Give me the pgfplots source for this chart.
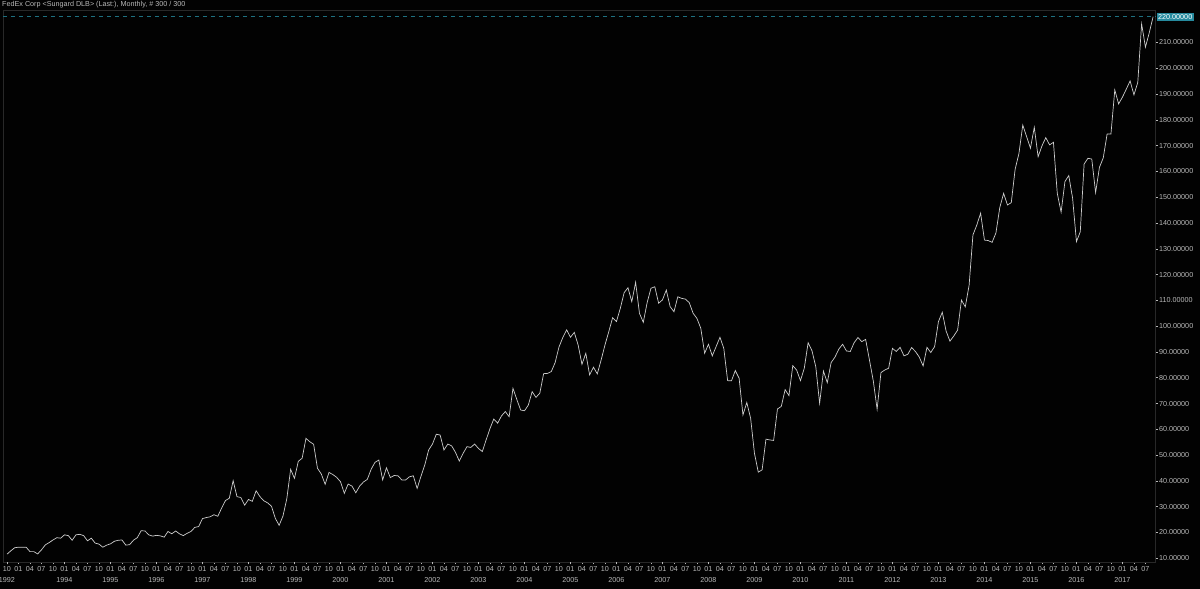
\documentclass[border=0pt]{standalone}
\usepackage{fontspec}
\setmainfont{Liberation Sans}
\usepackage{pgfplots}
\pgfplotsset{compat=1.18}
\definecolor{bg}{RGB}{2,2,2}
\definecolor{linec}{RGB}{205,205,205}
\definecolor{txt}{RGB}{185,185,185}
\definecolor{framec}{RGB}{40,40,40}
\definecolor{tealdash}{RGB}{30,112,128}
\definecolor{tealbox}{RGB}{38,138,158}
\begin{document}
\begin{tikzpicture}[x=1pt,y=1pt]
\fill[bg] (0,0) rectangle (1200,589);
\useasboundingbox (0,0) rectangle (1200,589);
\node[anchor=north west, inner sep=0pt, text=txt, font=\fontsize{7.2}{8}\selectfont] at (2,587.5) {FedEx Corp <Sungard DLB> (Last:), Monthly, \# 300 / 300};
\begin{axis}[
  at={(3pt,27pt)}, anchor=south west,
  width=1152pt, height=552pt, scale only axis,
  xmin=-1.04, xmax=299.5, ymin=8.57, ymax=222.6,
  axis line style={draw=framec},
  tick align=outside,
  major tick length=2.5pt,
  tick style={color=txt, line width=0.6pt},
  xtick pos=left, ytick pos=right, yticklabel pos=right,
  tick label style={font=\fontsize{7.2}{8}\selectfont, text=txt},
  xtick={0,3,...,297},
  xticklabels={
    10,01,04,07, 10,01,04,07, 10,01,04,07, 10,01,04,07, 10,01,04,07,
    10,01,04,07, 10,01,04,07, 10,01,04,07, 10,01,04,07, 10,01,04,07,
    10,01,04,07, 10,01,04,07, 10,01,04,07, 10,01,04,07, 10,01,04,07,
    10,01,04,07, 10,01,04,07, 10,01,04,07, 10,01,04,07, 10,01,04,07,
    10,01,04,07, 10,01,04,07, 10,01,04,07, 10,01,04,07, 10,01,04,07},
  xticklabel style={inner sep=1.5pt},
  extra x ticks={0,15,27,39,51,63,75,87,99,111,123,135,147,159,171,183,195,207,219,231,243,255,267,279,291},
  extra x tick labels={1992,1994,1995,1996,1997,1998,1999,2000,2001,2002,2003,2004,2005,2006,2007,2008,2009,2010,2011,2012,2013,2014,2015,2016,2017},
  extra x tick style={tick label style={yshift=-11pt}},
  ytick={10,20,...,210},
  yticklabel style={anchor=west, inner sep=1.5pt, /pgf/number format/fixed, /pgf/number format/fixed zerofill, /pgf/number format/precision=5, /pgf/number format/assume math mode=true},
  extra y ticks={220},
  extra y tick style={grid=major, major grid style={draw=tealdash, dash pattern=on 4pt off 4pt, line width=0.7pt}, tick style={draw=none}, tick label style={fill=tealbox, text=white, inner sep=1pt, xshift=-1pt}},
  clip=false,
]
\addplot[linec, line width=0.7pt] coordinates {
(0,11.6)(1,12.9)(2,14.1)(3,14.3)(4,14.3)(5,14.3)(6,12.6)(7,12.6)(8,11.7)(9,13.3)
(10,15.2)(11,16.1)(12,17.1)(13,18.0)(14,17.8)(15,19.1)(16,18.8)(17,17.0)(18,19.1)(19,19.3)
(20,18.8)(21,16.8)(22,17.8)(23,15.9)(24,15.5)(25,14.3)(26,15.1)(27,15.6)(28,16.6)(29,17.0)
(30,17.1)(31,15.1)(32,15.3)(33,17.0)(34,18.0)(35,20.7)(36,20.6)(37,19.1)(38,18.6)(39,18.9)
(40,18.7)(41,18.2)(42,20.4)(43,19.5)(44,20.6)(45,19.5)(46,18.8)(47,19.7)(48,20.4)(49,22.0)
(50,22.3)(51,25.4)(52,25.8)(53,26.1)(54,26.9)(55,26.3)(56,29.5)(57,32.4)(58,33.3)(59,40.1)
(60,33.9)(61,33.6)(62,30.6)(63,32.8)(64,32.1)(65,36.2)(66,33.9)(67,32.3)(68,31.5)(69,30.2)
(70,25.5)(71,22.8)(72,26.4)(73,33.1)(74,44.5)(75,41.0)(76,47.6)(77,48.8)(78,56.5)(79,55.2)
(80,54.2)(81,44.9)(82,42.7)(83,38.7)(84,43.3)(85,42.5)(86,41.4)(87,39.7)(88,35.2)(89,38.8)
(90,38.0)(91,35.4)(92,38.0)(93,39.6)(94,40.6)(95,44.5)(96,47.2)(97,48.1)(98,40.4)(99,45.1)
(100,41.3)(101,42.1)(102,42.0)(103,40.4)(104,40.4)(105,41.6)(106,42.0)(107,37.1)(108,41.8)(109,46.2)
(110,52.0)(111,54.3)(112,58.1)(113,57.8)(114,52.0)(115,54.3)(116,53.6)(117,51.1)(118,47.7)(119,50.7)
(120,53.3)(121,53.0)(122,54.3)(123,52.6)(124,51.4)(125,55.9)(126,60.3)(127,64.0)(128,62.4)(129,65.2)
(130,66.9)(131,64.9)(132,75.9)(133,71.6)(134,67.5)(135,67.2)(136,69.4)(137,74.6)(138,72.4)(139,74.0)
(140,81.6)(141,81.7)(142,82.4)(143,85.9)(144,91.9)(145,95.6)(146,98.6)(147,95.7)(148,97.6)(149,92.7)
(150,85.2)(151,89.5)(152,81.1)(153,84.1)(154,81.5)(155,86.9)(156,92.7)(157,97.9)(158,103.3)(159,101.8)
(160,106.9)(161,113.0)(162,114.9)(163,109.5)(164,117.0)(165,105.0)(166,101.5)(167,109.1)(168,114.7)(169,115.3)
(170,108.9)(171,110.2)(172,114.0)(173,107.6)(174,105.6)(175,111.4)(176,110.8)(177,110.5)(178,109.1)(179,105.0)
(180,103.0)(181,99.2)(182,89.5)(183,93.0)(184,88.5)(185,92.1)(186,95.7)(187,91.4)(188,78.9)(189,78.8)
(190,82.8)(191,79.8)(192,65.6)(193,70.4)(194,64.3)(195,50.7)(196,43.4)(197,44.3)(198,56.2)(199,55.9)
(200,55.7)(201,67.9)(202,68.9)(203,75.4)(204,73.1)(205,84.7)(206,83.0)(207,78.9)(208,83.7)(209,93.6)
(210,90.5)(211,84.3)(212,70.1)(213,82.6)(214,78.1)(215,85.9)(216,88.0)(217,91.1)(218,93.0)(219,90.4)
(220,90.2)(221,93.6)(222,95.6)(223,94.0)(224,94.9)(225,86.9)(226,78.8)(227,67.8)(228,82.0)(229,83.0)
(230,83.7)(231,91.4)(232,90.2)(233,91.8)(234,88.5)(235,89.1)(236,91.7)(237,90.2)(238,88.0)(239,84.6)
(240,91.8)(241,89.8)(242,92.1)(243,101.8)(244,105.4)(245,98.1)(246,94.2)(247,96.2)(248,98.5)(249,110.1)
(250,107.5)(251,115.9)(252,135.4)(253,139.2)(254,143.8)(255,133.4)(256,133.2)(257,132.5)(258,136.2)(259,146.0)
(260,151.5)(261,147.0)(262,147.9)(263,160.8)(264,167.0)(265,178.0)(266,173.5)(267,169.0)(268,177.1)(269,165.7)
(270,169.9)(271,173.1)(272,170.3)(273,171.3)(274,151.5)(275,144.2)(276,156.1)(277,158.4)(278,149.6)(279,132.8)
(280,136.6)(281,162.9)(282,165.1)(283,164.8)(284,151.8)(285,161.6)(286,165.3)(287,174.5)(288,174.5)(289,191.6)
(290,186.2)(291,188.8)(292,191.9)(293,195.1)(294,189.7)(295,194.5)(296,217.2)(297,208.2)(298,213.8)(299,220.0)
};
\end{axis}
\end{tikzpicture}
\end{document}
